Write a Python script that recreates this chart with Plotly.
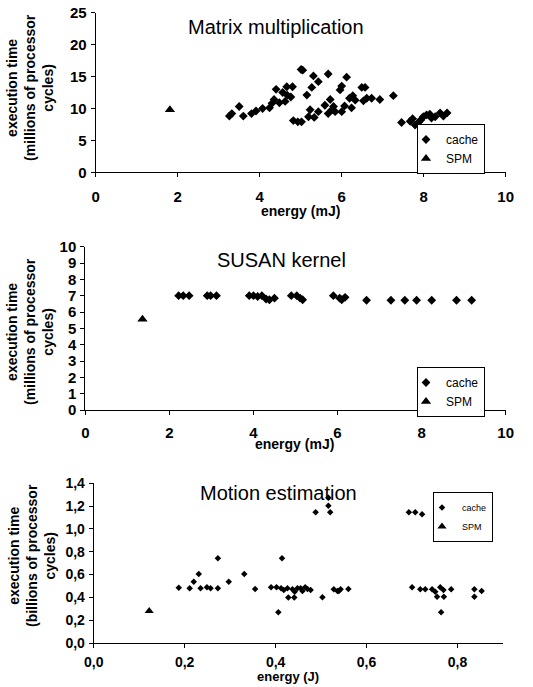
import plotly.graph_objects as go

# ---------------- Data ----------------
# Matrix multiplication (energy mJ, execution time millions of cycles)
mm_cache_x = [3.26, 3.32, 3.50, 3.60, 3.80, 3.91, 4.07, 4.24, 4.30, 4.35, 4.40, 4.48, 4.56, 4.62,
              4.66, 4.67, 4.76, 4.80, 4.82, 4.93, 5.02, 5.01, 5.05, 5.15, 5.19, 5.23, 5.31, 5.27,
              5.33, 5.43, 5.43, 5.59, 5.67, 5.72, 5.67, 5.76, 5.80, 5.84, 5.96, 6.00, 6.00, 6.07,
              6.12, 6.19, 6.24, 6.27, 6.33, 6.49, 6.53, 6.57, 6.61, 6.73, 6.93, 7.26, 7.46, 7.67,
              7.73, 7.79, 7.87, 7.93, 7.99, 8.07, 8.15, 8.19, 8.28, 8.40, 8.48, 8.57]
mm_cache_y = [8.8, 9.2, 10.3, 8.8, 9.2, 9.6, 10.0, 10.1, 10.8, 11.4, 13.0, 10.9, 12.5, 11.1,
              13.4, 12.1, 11.8, 13.4, 8.1, 7.9, 7.9, 16.1, 16.0, 12.1, 8.7, 9.8, 15.1, 13.3,
              8.6, 14.2, 9.5, 10.5, 15.4, 11.4, 9.2, 9.8, 10.3, 9.5, 12.9, 13.5, 9.5, 10.4,
              14.9, 11.6, 10.1, 12.0, 11.3, 13.3, 11.2, 13.3, 11.6, 11.6, 11.4, 12.0, 7.8, 8.0,
              8.4, 7.4, 7.8, 8.2, 8.7, 9.0, 9.1, 8.5, 8.7, 9.3, 8.8, 9.3]
mm_spm_x = [1.81]
mm_spm_y = [9.8]

# SUSAN kernel
su_cache_x = [2.22, 2.33, 2.47, 2.90, 2.98, 3.12, 3.90, 4.00, 4.10, 4.20, 4.30, 4.38, 4.50,
              4.90, 5.03, 5.11, 5.17, 5.90, 6.05, 6.10, 6.18, 6.69, 7.27, 7.60, 7.88, 8.24,
              8.83, 9.19]
su_cache_y = [7.0, 7.0, 7.0, 7.0, 7.0, 7.0, 7.0, 7.0, 6.95, 7.0, 6.8, 6.75, 6.85,
              7.0, 7.0, 6.85, 6.75, 7.0, 6.85, 6.75, 6.9, 6.72, 6.72, 6.72, 6.72, 6.72,
              6.72, 6.72]
su_spm_x = [1.36]
su_spm_y = [5.55]

# Motion estimation (energy J, execution time billions of cycles)
me_cache_x = [0.187, 0.211, 0.220, 0.231, 0.235, 0.249, 0.257, 0.273, 0.273, 0.297, 0.331,
              0.355, 0.390, 0.402, 0.406, 0.412, 0.414, 0.418, 0.426, 0.428, 0.437, 0.442,
              0.441, 0.448, 0.455, 0.459, 0.465, 0.470, 0.477, 0.488, 0.503, 0.516, 0.516,
              0.520, 0.528, 0.536, 0.539, 0.543, 0.560, 0.693, 0.707, 0.722, 0.700, 0.718,
              0.729, 0.744, 0.751, 0.755, 0.764, 0.762, 0.769, 0.770, 0.786, 0.837, 0.837,
              0.853]
me_cache_y = [0.485, 0.480, 0.538, 0.605, 0.480, 0.488, 0.480, 0.742, 0.480, 0.538, 0.605,
              0.474, 0.488, 0.488, 0.269, 0.480, 0.742, 0.465, 0.480, 0.398, 0.471, 0.450,
              0.398, 0.480, 0.480, 0.456, 0.488, 0.474, 0.465, 1.146, 0.400, 1.274, 1.204,
              1.146, 0.471, 0.456, 0.456, 0.471, 0.474, 1.146, 1.146, 1.128, 0.488, 0.471,
              0.471, 0.471, 0.450, 0.406, 0.269, 0.488, 0.465, 0.406, 0.471, 0.471, 0.406,
              0.456]
me_spm_x = [0.122]
me_spm_y = [0.281]

titles = ["Matrix multiplication", "SUSAN kernel", "Motion estimation"]
y_titles = ["execution time<br>(millions of processor<br>cycles)",
            "execution time<br>(millions of processor<br>cycles)",
            "execution time<br>(billions of processor<br>cycles)"]
x_titles = ["energy (mJ)", "energy (mJ)", "energy (J)"]

# ---------------- Figure ----------------
W, H = 533, 687
FONT = "Liberation Sans, Arial, sans-serif"

def px(xp):
    return xp / W

def py(yp):
    return 1 - yp / H

fig = go.Figure()

panels = [
    dict(cx=mm_cache_x, cy=mm_cache_y, sx=mm_spm_x, sy=mm_spm_y, leg="legend",
         xs="x", ys="y", msize=6.8, tsize=9),
    dict(cx=su_cache_x, cy=su_cache_y, sx=su_spm_x, sy=su_spm_y, leg="legend2",
         xs="x2", ys="y2", msize=6.8, tsize=9),
    dict(cx=me_cache_x, cy=me_cache_y, sx=me_spm_x, sy=me_spm_y, leg="legend3",
         xs="x3", ys="y3", msize=5, tsize=8),
]
for p in panels:
    fig.add_trace(go.Scatter(x=p["cx"], y=p["cy"], mode="markers", name="cache",
                             marker=dict(symbol="diamond", size=p["msize"], color="black"),
                             xaxis=p["xs"], yaxis=p["ys"], legend=p["leg"]))
    fig.add_trace(go.Scatter(x=p["sx"], y=p["sy"], mode="markers", name="SPM",
                             marker=dict(symbol="triangle-up", size=p["tsize"], color="black"),
                             xaxis=p["xs"], yaxis=p["ys"], legend=p["leg"]))

# page-pixel boxes of the plot areas: (left, right, top, bottom)
boxes = [(95.7, 505.7, 12.7, 172.3), (85.3, 505.7, 246.7, 410.0), (93.7, 503.0, 483.3, 643.0)]
x_standoff = [7, 5, 2]
tick_sizes = [15, 15, 14]

common_axis = dict(showgrid=False, zeroline=False, showline=True, linecolor="black",
                   linewidth=1, ticks="outside", ticklen=4, tickcolor="black",
                   automargin=False, fixedrange=True)

axes_cfg = [
    dict(xr=[0, 10], xd=2, yr=[0, 25], yd=5, xfmt="", yfmt=""),
    dict(xr=[0, 10], xd=2, yr=[0, 10], yd=1, xfmt="", yfmt=""),
    dict(xr=[0, 0.9], xd=0.2, yr=[0, 1.4], yd=0.2, xfmt=".1f", yfmt=".1f"),
]

layout_axes = {}
for i, (b, a) in enumerate(zip(boxes, axes_cfg)):
    suf = "" if i == 0 else str(i + 1)
    l, r, t, bt = b
    tf = dict(family=FONT, size=tick_sizes[i], color="black", weight="bold")
    layout_axes["xaxis" + suf] = dict(common_axis, domain=[px(l), px(r)], range=a["xr"],
                                      dtick=a["xd"], tick0=0, tickformat=a["xfmt"],
                                      ticklabelstandoff=x_standoff[i], tickfont=tf,
                                      anchor="y" + suf)
    layout_axes["yaxis" + suf] = dict(common_axis, domain=[py(bt), py(t)], range=a["yr"],
                                      dtick=a["yd"], tick0=0, tickformat=a["yfmt"],
                                      ticklabelstandoff=1, tickfont=tf,
                                      anchor="x" + suf)

fig.update_layout(**layout_axes)

annotations = []
title_pos = [(276, 27), (281, 260), (278, 493)]
for (tx, ty), txt in zip(title_pos, titles):
    annotations.append(dict(text=txt, x=px(tx), y=py(ty), xref="paper", yref="paper",
                            showarrow=False, xanchor="center", yanchor="middle",
                            font=dict(family=FONT, size=20, color="black")))
ytitle_pos = [(30, 88), (30, 332), (32, 556)]
for (tx, ty), txt in zip(ytitle_pos, y_titles):
    annotations.append(dict(text=txt, x=px(tx), y=py(ty), xref="paper", yref="paper",
                            showarrow=False, textangle=-90, xanchor="center",
                            yanchor="middle",
                            font=dict(family=FONT, size=14, color="black", weight="bold")))
xtitle_pos = [(300, 211), (294, 444), (288, 676)]
xtitle_sizes = [14, 14, 13]
for (tx, ty), txt, fs in zip(xtitle_pos, x_titles, xtitle_sizes):
    annotations.append(dict(text=txt, x=px(tx), y=py(ty), xref="paper", yref="paper",
                            showarrow=False, xanchor="center", yanchor="middle",
                            font=dict(family=FONT, size=fs, color="black", weight="bold")))

legend_common = dict(bordercolor="black", borderwidth=1, bgcolor="white",
                     xanchor="right", yanchor="top", itemwidth=30,
                     tracegroupgap=0, indentation=-12)
fig.update_layout(
    width=W, height=H,
    margin=dict(l=0, r=0, t=0, b=0),
    paper_bgcolor="white", plot_bgcolor="white",
    separators=",.",
    showlegend=True,
    annotations=annotations,
    legend=dict(legend_common, x=px(485), y=py(124),
                font=dict(family=FONT, size=12, color="black")),
    legend2=dict(legend_common, x=px(485), y=py(367),
                 font=dict(family=FONT, size=12, color="black")),
    legend3=dict(legend_common, x=px(493), y=py(492),
                 font=dict(family=FONT, size=9, color="black")),
)

fig.write_html("out.html",
               config={"displayModeBar": False},
               post_script="document.body.style.margin='0px';"
                           "document.body.style.overflow='hidden';")
